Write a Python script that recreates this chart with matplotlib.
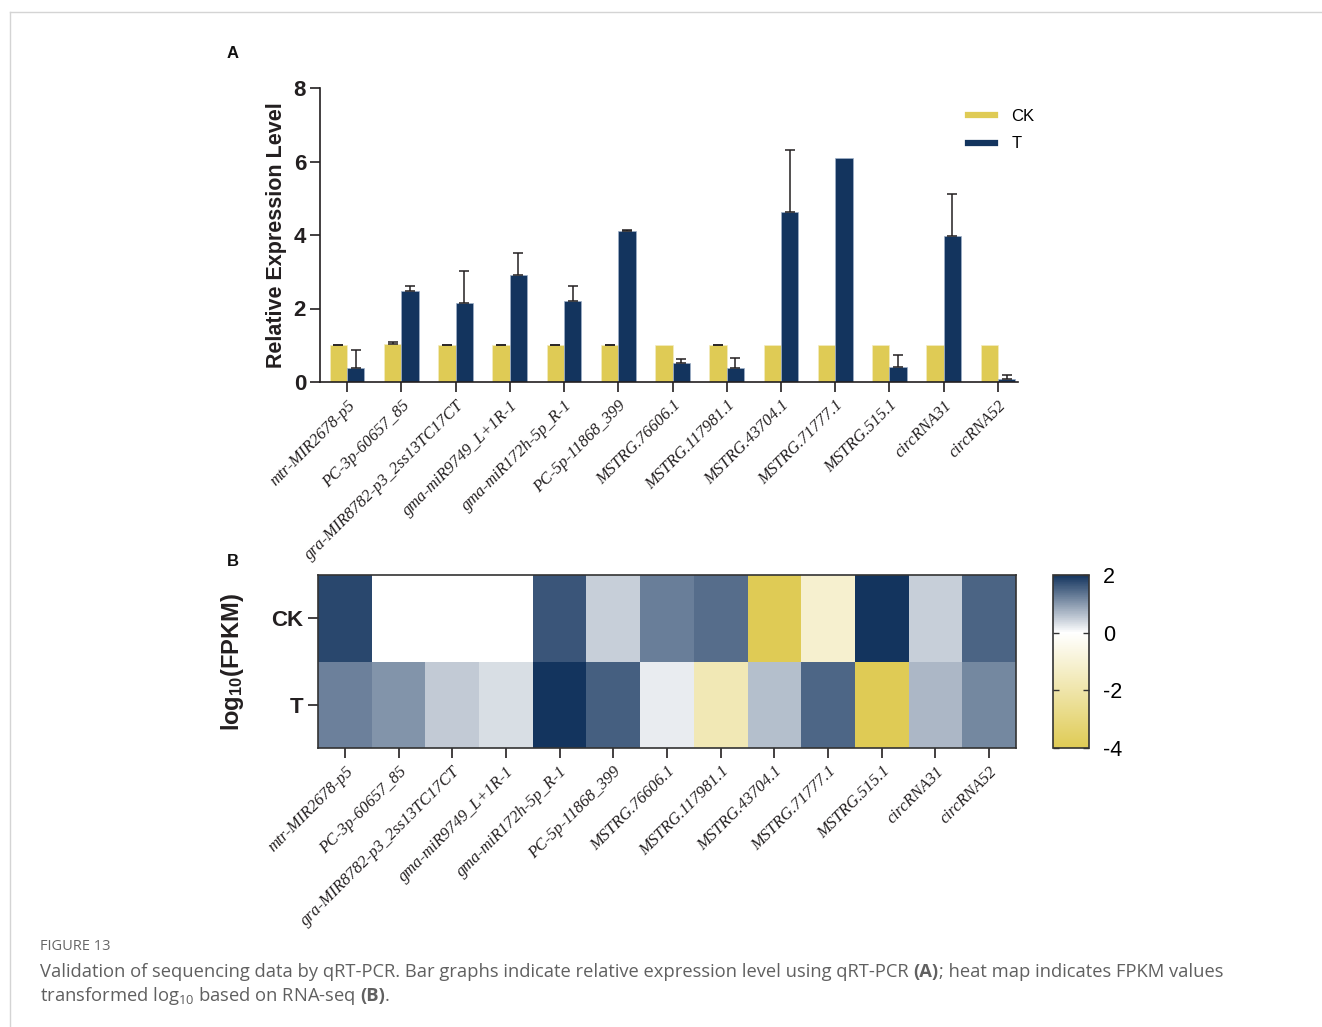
import matplotlib
matplotlib.use("Agg")
import matplotlib.pyplot as plt
import numpy as np
from matplotlib.colors import LinearSegmentedColormap, Normalize
from matplotlib.lines import Line2D

plt.rcParams['font.family'] = ['Liberation Sans', 'DejaVu Sans']
plt.rcParams['mathtext.fontset'] = 'custom'
plt.rcParams['mathtext.rm'] = 'Open Sans'
plt.rcParams['mathtext.bf'] = 'Liberation Sans:bold'
plt.rcParams['axes.unicode_minus'] = False

# ---- data ----
genes = ["mtr-MIR2678-p5", "PC-3p-60657_85", "gra-MIR8782-p3_2ss13TC17CT",
         "gma-miR9749_L+1R-1", "gma-miR172h-5p_R-1", "PC-5p-11868_399",
         "MSTRG.76606.1", "MSTRG.117981.1", "MSTRG.43704.1", "MSTRG.71777.1",
         "MSTRG.515.1", "circRNA31", "circRNA52"]
ck_mean = [1.0, 1.03, 1.0, 1.0, 1.0, 1.0, 1.0, 1.0, 1.0, 1.0, 1.0, 1.0, 1.0]
ck_err = [0.01, 0.05, 0.01, 0.01, 0.01, 0.01, 0.0, 0.01, 0.0, 0.0, 0.0, 0.0, 0.0]
t_mean = [0.38, 2.48, 2.15, 2.91, 2.20, 4.11, 0.51, 0.37, 4.62, 6.10, 0.40, 3.98, 0.07]
t_err = [0.49, 0.13, 0.87, 0.60, 0.41, 0.03, 0.12, 0.27, 1.70, 0.0, 0.33, 1.13, 0.13]

rows = ["CK", "T"]
log_fpkm_ck = [1.80, 0.0, 0.0, 0.0, 1.67, 0.46, 1.26, 1.42, -4.0, -1.13, 2.0, 0.47, 1.53]
log_fpkm_t = [1.23, 1.06, 0.51, 0.33, 2.0, 1.56, 0.19, -1.74, 0.64, 1.50, -4.0, 0.69, 1.17]

YELLOW = "#DFCB55"
NAVY = "#13345E"
INK = "#231F20"

W, H = 1322, 1027
fig = plt.figure(figsize=(W / 100, H / 100), dpi=100)


def fx(px):
    return px / W


def fy(py):
    return 1 - py / H


# page frame lines
fig.add_artist(Line2D([fx(10), 1], [fy(12), fy(12)], color="#d4d4d4", lw=1))
fig.add_artist(Line2D([fx(10), fx(10)], [fy(12), 0], color="#d4d4d4", lw=1))

# ---- panel A: bar chart ----
ax = fig.add_axes([fx(320), fy(382), fx(1018) - fx(320), fy(88) - fy(382)])
x = np.arange(len(genes))
bw = 0.32
ax.bar(x - bw / 2, ck_mean, bw, color=YELLOW, edgecolor="#f3ecc0", linewidth=0.5,
       label="CK", zorder=2)
ax.bar(x + bw / 2, t_mean, bw, color=NAVY, edgecolor="#9fb0c8", linewidth=0.5,
       label="T", zorder=2)
ek = dict(ecolor=INK, elinewidth=1.1, capsize=3.6, capthick=1.1, fmt="none", zorder=3)
for offs, means, errs in ((-bw / 2, ck_mean, ck_err), (bw / 2, t_mean, t_err)):
    m = np.array(errs) > 0
    ax.errorbar((x + offs)[m], np.array(means)[m],
                yerr=[np.zeros(m.sum()), np.array(errs)[m]], **ek)

ax.set_xlim(-0.5, 12.37)
ax.set_ylim(0, 8)
ax.set_yticks([0, 2, 4, 6, 8])
for s in ["top", "right"]:
    ax.spines[s].set_visible(False)
for s in ["left", "bottom"]:
    ax.spines[s].set_color(INK)
    ax.spines[s].set_linewidth(1.2)
ax.tick_params(axis="both", direction="out", length=7, width=1.2, color=INK)
ax.tick_params(axis="y", labelsize=16, pad=3)
for lab in ax.get_yticklabels():
    lab.set_fontweight("bold")
    lab.set_color(INK)
ax.set_xticks(x)
ax.set_xticklabels(genes, rotation=45, ha="right", va="top", rotation_mode="anchor",
                   fontsize=12, family="Liberation Serif", style="italic", color=INK)
ax.tick_params(axis="x", pad=4)
ax.set_ylabel("Relative Expression Level", fontsize=15.5, fontweight="bold",
              color=INK, labelpad=5)

handles = [Line2D([], [], color=YELLOW, lw=4.5), Line2D([], [], color=NAVY, lw=4.5)]
fig.legend(handles, ["CK", "T"], loc="upper left",
           bbox_to_anchor=(fx(968), fy(109)), frameon=False, fontsize=12,
           handlelength=1.6, handletextpad=1.0, labelspacing=0.75, borderpad=0,
           borderaxespad=0)

fig.text(fx(233), fy(53), "A", fontsize=12, fontweight="bold", ha="center",
         va="center", color="#111")

# ---- panel B: heat map ----
cmap = LinearSegmentedColormap.from_list(
    "yw_navy", [(0.0, YELLOW), (4 / 6, "#FFFFFF"), (1.0, NAVY)])
norm = Normalize(vmin=-4, vmax=2)

hx = fig.add_axes([fx(318), fy(748), fx(1016) - fx(318), fy(575) - fy(748)])
data = np.array([log_fpkm_ck, log_fpkm_t])
hx.pcolormesh(np.arange(len(genes) + 1) - 0.5, np.arange(3) - 0.5, data,
              cmap=cmap, norm=norm)
hx.set_xlim(-0.5, len(genes) - 0.5)
hx.set_ylim(1.5, -0.5)
hx.set_yticks([0, 1])
hx.set_yticklabels(rows, fontsize=16, fontweight="bold", color=INK)
hx.set_xticks(x)
hx.set_xticklabels(genes, rotation=45, ha="right", va="top", rotation_mode="anchor",
                   fontsize=12, family="Liberation Serif", style="italic", color=INK)
hx.tick_params(axis="both", direction="out", length=7, width=1.2, color=INK)
hx.tick_params(axis="x", pad=4)
for s in hx.spines.values():
    s.set_color("#333")
    s.set_linewidth(1.2)
hx.set_ylabel(r"$\mathbf{log_{10}(FPKM)}$", fontsize=17, color=INK, labelpad=18)

fig.text(fx(233), fy(561), "B", fontsize=12, fontweight="bold", ha="center",
         va="center", color="#111")

# colour bar
cax = fig.add_axes([fx(1053), fy(748), fx(36), fy(575) - fy(748)])
sm = matplotlib.cm.ScalarMappable(norm=norm, cmap=cmap)
cb = fig.colorbar(sm, cax=cax, ticks=[2, 0, -2, -4])
cb.outline.set_edgecolor("#333")
cb.outline.set_linewidth(1.2)
cax.tick_params(direction="in", left=True, right=True, length=4, width=1,
                color="#333", labelsize=15.5, pad=10)

# ---- caption ----
cap_kw = dict(fontsize=13.2, family="Open Sans", color="#606060")
fig.text(fx(40), fy(947), "FIGURE 13", fontsize=10.5, family="Open Sans",
         color="#666666", va="center")
t1 = fig.text(fx(40), fy(977), "Validation of sequencing data by qRT-PCR. Bar graphs "
              "indicate relative expression level using qRT-PCR ", va="baseline", **cap_kw)
t2 = fig.text(0, 0, "(A)", va="baseline", fontweight="bold", **cap_kw)
t3 = fig.text(0, 0, "; heat map indicates FPKM values", va="baseline", **cap_kw)
t4 = fig.text(fx(40), fy(1001), r"transformed log$_{10}$ based on RNA-seq",
              va="baseline", **cap_kw)
t4b = fig.text(0, 0, " ", va="baseline", **cap_kw)
t5 = fig.text(0, 0, "(B)", va="baseline", fontweight="bold", **cap_kw)
t6 = fig.text(0, 0, ".", va="baseline", **cap_kw)

fig.canvas.draw()
r = fig.canvas.get_renderer()


def chain(prev, nxt, y, gap=0.0):
    bb = prev.get_window_extent(r)
    nxt.set_position(((bb.x1 + gap) / fig.bbox.width, y))


chain(t1, t2, fy(977))
chain(t2, t3, fy(977))
chain(t4, t5, fy(1001), gap=4.5)
chain(t5, t6, fy(1001))

fig.savefig("out.png", dpi=100)
